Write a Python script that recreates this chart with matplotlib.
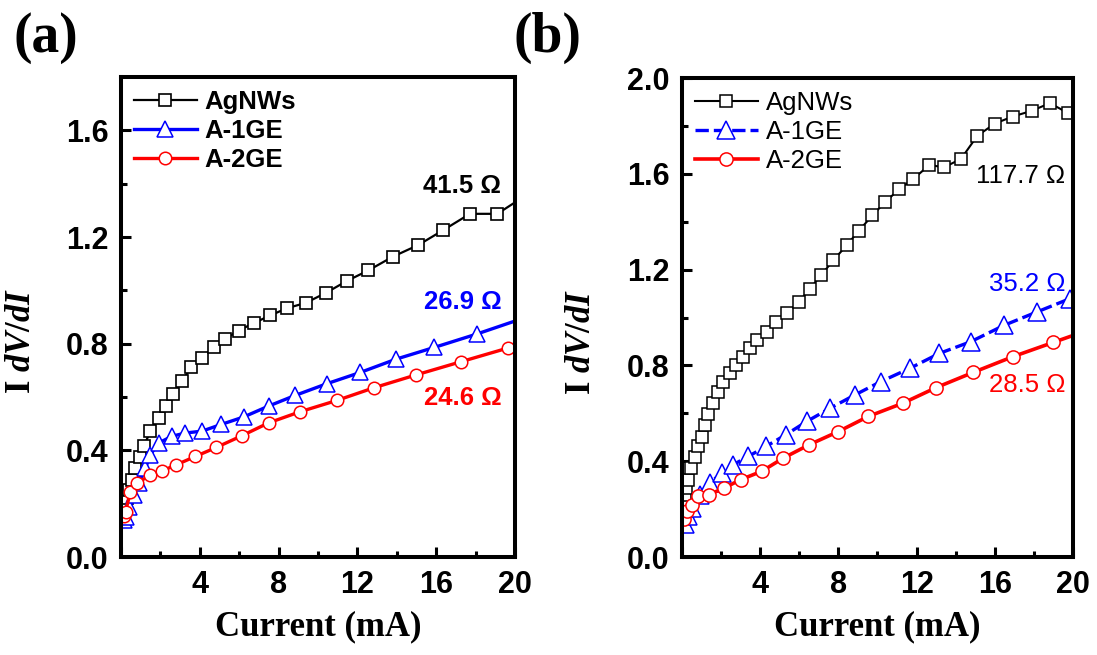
import numpy as np
import matplotlib.pyplot as plt

plt.rcParams['mathtext.fontset'] = 'custom'
plt.rcParams['mathtext.it'] = 'Liberation Serif:italic:bold'
plt.rcParams['mathtext.rm'] = 'Liberation Serif:bold'
plt.rcParams['mathtext.bf'] = 'Liberation Serif:bold'

# ---- panel (a) data: current (mA) vs I dV/dI
a_ag_x = [0.15, 0.23, 0.31, 0.40, 0.57, 0.73, 0.95, 1.16, 1.49, 1.92, 2.26, 2.64, 3.10, 3.56,
          4.11, 4.70, 5.30, 5.97, 6.73, 7.58, 8.42, 9.38, 10.41, 11.46, 12.56, 13.79,
          15.09, 16.36, 17.71, 19.10, 20.0]
a_ag_y = [0.17, 0.195, 0.22, 0.25, 0.29, 0.333, 0.374, 0.415, 0.472, 0.522, 0.566, 0.613, 0.660,
          0.711, 0.748, 0.786, 0.818, 0.849, 0.877, 0.906, 0.933, 0.953, 0.991, 1.035,
          1.075, 1.126, 1.170, 1.226, 1.287, 1.287, 1.33]
a_g1_x = [0.15, 0.23, 0.40, 0.65, 0.90, 1.24, 1.49, 1.92, 2.59, 3.27, 4.11, 5.08, 6.22, 7.49,
          8.84, 10.45, 12.14, 13.96, 15.90, 18.05, 20.0]
a_g1_y = [0.14, 0.151, 0.189, 0.233, 0.277, 0.333, 0.384, 0.428, 0.453, 0.465, 0.472, 0.497,
          0.525, 0.566, 0.606, 0.650, 0.692, 0.742, 0.786, 0.836, 0.885]
a_g2_x = [0.15, 0.23, 0.48, 0.82, 1.49, 2.09, 2.81, 3.77, 4.84, 6.14, 7.49, 9.10, 10.95, 12.85,
          14.98, 17.24, 19.65, 20.0]
a_g2_y = [0.155, 0.17, 0.245, 0.277, 0.308, 0.323, 0.346, 0.377, 0.411, 0.455, 0.503, 0.545,
          0.587, 0.635, 0.683, 0.732, 0.784, 0.79]

# ---- panel (b) data
b_ag_x = [0.03, 0.07, 0.10, 0.15, 0.20, 0.32, 0.44, 0.66, 0.84, 1.01, 1.18, 1.35, 1.57, 1.82,
          2.11, 2.46, 2.76, 3.14, 3.48, 3.85, 4.33, 4.81, 5.35, 5.98, 6.55, 7.11, 7.74,
          8.42, 9.05, 9.74, 10.38, 11.12, 11.83, 12.65, 13.40, 14.27, 15.11, 16.01,
          16.91, 17.89, 18.82, 19.76, 20.0]
b_ag_y = [0.17, 0.191, 0.226, 0.261, 0.288, 0.323, 0.372, 0.416, 0.462, 0.503, 0.552, 0.596,
          0.642, 0.691, 0.732, 0.767, 0.802, 0.836, 0.871, 0.906, 0.940, 0.982, 1.017,
          1.065, 1.121, 1.176, 1.239, 1.301, 1.363, 1.426, 1.481, 1.537, 1.578, 1.637,
          1.627, 1.662, 1.759, 1.810, 1.839, 1.863, 1.895, 1.853, 1.84]
b_g1_x = [0.15, 0.32, 0.49, 0.92, 1.43, 2.03, 2.63, 3.39, 4.30, 5.30, 6.38, 7.57, 8.85, 10.16,
          11.66, 13.16, 14.77, 16.49, 18.18, 19.85, 20.0]
b_g1_y = [0.136, 0.171, 0.205, 0.261, 0.309, 0.351, 0.386, 0.420, 0.462, 0.510, 0.566, 0.621,
          0.677, 0.732, 0.788, 0.850, 0.899, 0.968, 1.024, 1.079, 1.085]
b_g2_x = [0.10, 0.24, 0.49, 0.84, 1.40, 2.15, 3.00, 4.08, 5.18, 6.51, 8.00, 9.53, 11.29, 12.99,
          14.90, 16.91, 18.99, 20.0]
b_g2_y = [0.157, 0.191, 0.219, 0.254, 0.261, 0.288, 0.323, 0.358, 0.413, 0.469, 0.524, 0.587,
          0.642, 0.707, 0.771, 0.836, 0.896, 0.925]

labels = ['AgNWs', 'A-1GE', 'A-2GE']
a_notes = ['41.5 Ω', '26.9 Ω', '24.6 Ω']
a_note_y = [1.39, 0.955, 0.596]
b_notes = ['117.7 Ω', '35.2 Ω', '28.5 Ω']
b_note_y = [1.59, 1.14, 0.717]
xticks = [0, 4, 8, 12, 16, 20]
xticklabels = ['', '4', '8', '12', '16', '20']

colors = ['black', 'blue', 'red']
markers = ['s', '^', 'o']

fig = plt.figure(figsize=(10.97, 6.55), dpi=100)
axa = fig.add_axes([0.1103, 0.1496, 0.3592, 0.7328])
axb = fig.add_axes([0.6217, 0.1496, 0.3564, 0.7313])

sans = 'Liberation Sans'
serif = 'Liberation Serif'


def setup(ax, ymax, yticks):
    ax.set_xlim(0, 20)
    ax.set_ylim(0, ymax)
    ax.set_xticks(xticks)
    ax.set_xticklabels(xticklabels)
    ax.set_xticks(np.arange(2, 20, 4), minor=True)
    ax.set_yticks(yticks)
    ax.set_yticklabels(['%.1f' % v for v in yticks])
    ax.set_yticks(np.arange(0.2, ymax, 0.4), minor=True)
    for s in ax.spines.values():
        s.set_linewidth(2.9)
    ax.tick_params(which='both', direction='in', top=False, right=False, width=2.2)
    ax.tick_params(which='major', length=7, pad=9)
    ax.tick_params(which='minor', length=4)
    for t in ax.get_xticklabels() + ax.get_yticklabels():
        t.set_fontfamily(sans)
        t.set_fontweight('bold')
        t.set_fontsize(22)
    ax.set_xlabel('Current (mA)', fontfamily=serif, fontweight='bold', fontsize=25, labelpad=8)
    ax.set_ylabel('I $dV/dI$', fontfamily=serif, fontweight='bold', fontsize=25)


# panel (a)
setup(axa, 1.8, [0.0, 0.4, 0.8, 1.2, 1.6])
axa.plot(a_ag_x, a_ag_y, color='black', lw=1.6, marker='s', ms=8.5, mfc='white', mew=1.2,
         markevery=list(range(len(a_ag_x) - 1)), label=labels[0])
axa.plot(a_g1_x, a_g1_y, color='blue', lw=2.4, marker='^', ms=11, mfc='white', mew=1.1,
         markevery=list(range(len(a_g1_x) - 1)), label=labels[1])
axa.plot(a_g2_x, a_g2_y, color='red', lw=2.4, marker='o', ms=9, mfc='white', mew=1.1,
         markevery=list(range(len(a_g2_x) - 1)), label=labels[2])
axa.legend(loc='upper left', bbox_to_anchor=(0.0, 1.0), frameon=False,
           prop={'family': sans, 'weight': 'bold', 'size': 18.5},
           handlelength=2.45, handletextpad=0.3, labelspacing=0.2, borderaxespad=0.3,
           borderpad=0.2)
for txt, yy, c in zip(a_notes, a_note_y, colors):
    axa.text(19.3, yy, txt, color=c, ha='right', va='center', fontfamily=sans,
             fontweight='bold', fontsize=18.5)

# panel (b)
setup(axb, 2.0, [0.0, 0.4, 0.8, 1.2, 1.6, 2.0])
axb.plot(b_ag_x, b_ag_y, color='black', lw=1.5, marker='s', ms=9, mfc='white', mew=1.1,
         markevery=list(range(len(b_ag_x) - 1)), label=labels[0])
axb.plot(b_g1_x, b_g1_y, color='blue', lw=2.4, ls=(0, (4, 1.5)), marker='^', ms=13, mfc='white',
         mew=1.1, markevery=list(range(len(b_g1_x) - 1)), label=labels[1])
axb.plot(b_g2_x, b_g2_y, color='red', lw=2.6, marker='o', ms=9.5, mfc='white', mew=1.1,
         markevery=list(range(len(b_g2_x) - 1)), label=labels[2])
axb.legend(loc='upper left', bbox_to_anchor=(0.0, 1.0), frameon=False,
           prop={'family': sans, 'size': 18.5},
           handlelength=2.45, handletextpad=0.3, labelspacing=0.2, borderaxespad=0.3,
           borderpad=0.2)
for txt, yy, c in zip(b_notes, b_note_y, colors):
    axb.text(19.6, yy, txt, color=c, ha='right', va='center', fontfamily=sans, fontsize=18.5)

axa.yaxis.set_label_coords(-0.21, 0.45)
axb.yaxis.set_label_coords(-0.215, 0.45)

fig.text(13 / 1097, 1 - 12 / 655, '(a)', ha='left', va='top', fontfamily=serif,
         fontweight='bold', fontsize=40)
fig.text(513 / 1097, 1 - 12 / 655, '(b)', ha='left', va='top', fontfamily=serif,
         fontweight='bold', fontsize=40)

fig.savefig('out.png', dpi=100)
